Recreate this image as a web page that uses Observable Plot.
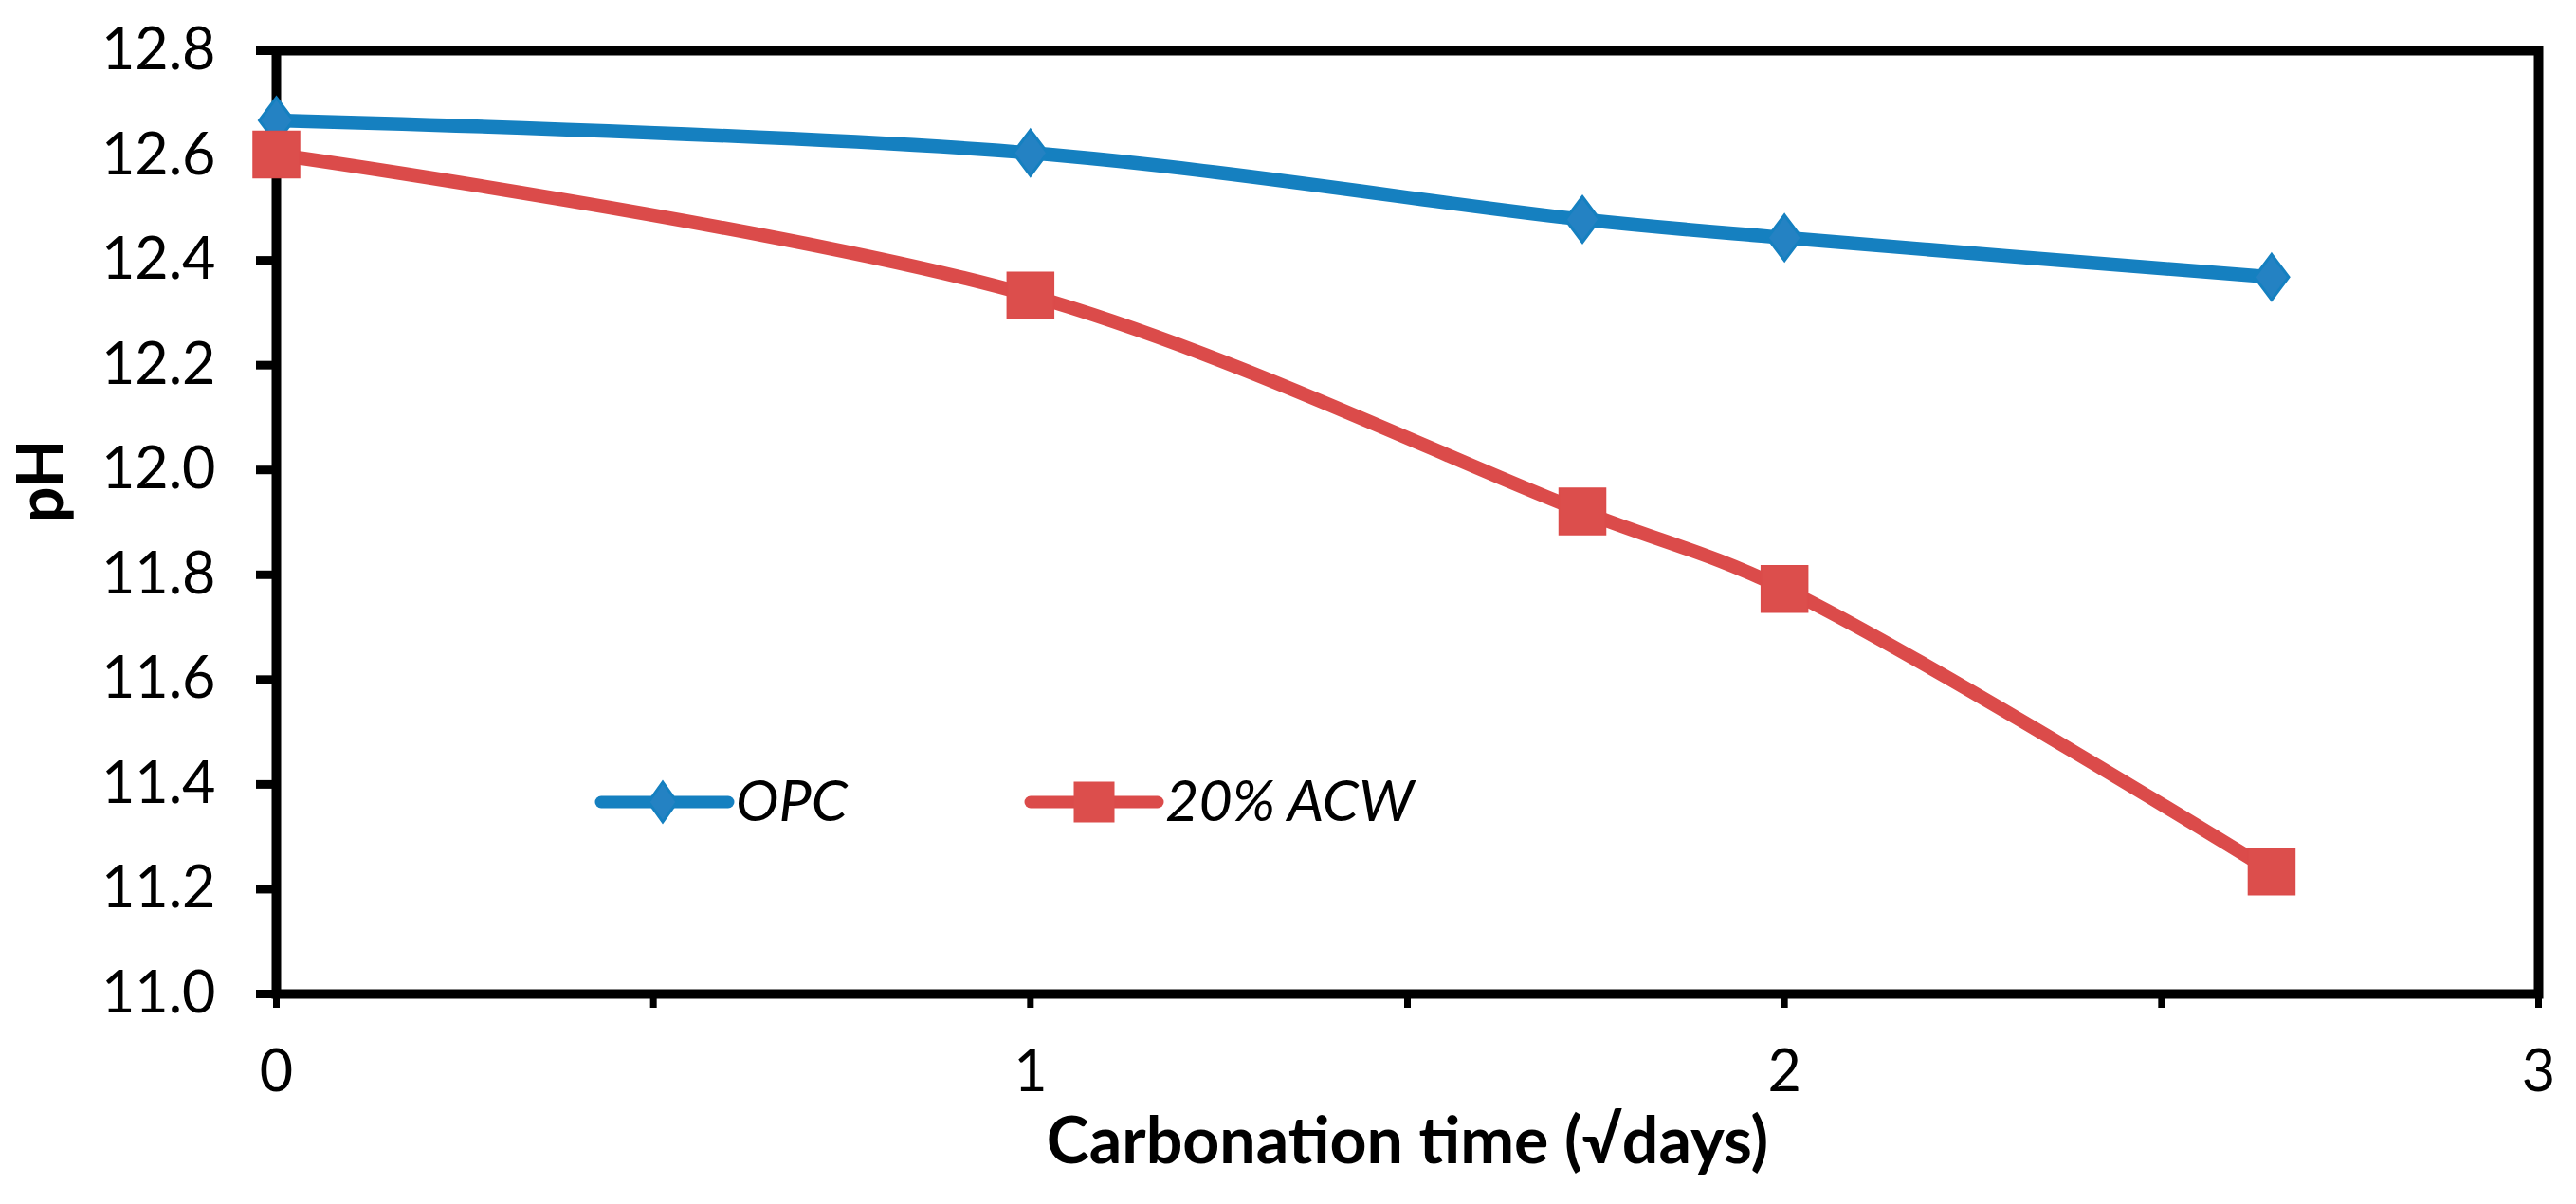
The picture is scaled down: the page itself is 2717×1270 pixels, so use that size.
<!DOCTYPE html>
<html>
<head>
<meta charset="utf-8">
<script src="https://cdn.jsdelivr.net/npm/d3@7"></script>
<script src="https://cdn.jsdelivr.net/npm/@observablehq/plot@0.6"></script>
<style>
  html, body { margin: 0; padding: 0; background: #fff; }
  #wrap { position: relative; width: 2717px; height: 1270px; font-family: Lato, "Open Sans", sans-serif; }
  #legend { position: absolute; left: 0; top: 0; pointer-events: none; }
</style>
</head>
<body>
<div id="wrap"></div>
<script>
// ---- data ----
const seriesNames = ["OPC", "20% ACW"];
const xSqrtDays = [0, 1, 1.732, 2, 2.646];
const phOPC = [12.667, 12.605, 12.478, 12.443, 12.368];
const phACW = [12.602, 12.333, 11.921, 11.773, 11.234];
const yTicks = [11.0, 11.2, 11.4, 11.6, 11.8, 12.0, 12.2, 12.4, 12.6, 12.8];
const xTicks = [0, 0.5, 1, 1.5, 2, 2.5, 3];
const xTickLabels = [0, 1, 2, 3];
const xTitle = "Carbonation time (√days)";
const yTitle = "pH";
const colors = {"OPC": "#1580c0", "20% ACW": "#db4b4a"};
const fills = {"OPC": "#2482c3", "20% ACW": "#dc4e4c"};

const rows = [];
xSqrtDays.forEach((x, i) => {
  rows.push({series: "OPC", x, y: phOPC[i]});
  rows.push({series: "20% ACW", x, y: phACW[i]});
});

// custom symbols: size = pi*r^2
const diamond = {draw(ctx, size) {
  const r = Math.sqrt(size / Math.PI), w = r * 0.75;
  ctx.moveTo(0, -r); ctx.lineTo(w, 0); ctx.lineTo(0, r); ctx.lineTo(-w, 0); ctx.closePath();
}};
const square = {draw(ctx, size) {
  const r = Math.sqrt(size / Math.PI);
  ctx.rect(-r, -r, 2 * r, 2 * r);
}};

const W = 2717, H = 1270;
const chart = Plot.plot({
  width: W,
  height: H,
  marginLeft: 291,
  marginRight: 40,
  marginTop: 53,
  marginBottom: 222,
  style: {fontFamily: "Lato, 'Open Sans', sans-serif", background: "white", color: "black"},
  x: {domain: [0, 3], label: null},
  y: {domain: [11.0, 12.8], label: null},
  marks: [
    Plot.frame({stroke: "black", strokeWidth: 10}),
    Plot.axisY({ticks: yTicks, tickSize: 21, tickPadding: 43, tickFormat: d => d.toFixed(1),
      fontSize: 61, strokeWidth: 9, stroke: "black", fill: "black", label: null}),
    Plot.axisX({ticks: xTicks, tickSize: 15, tickPadding: 44,
      tickFormat: d => xTickLabels.includes(d) ? String(d) : "",
      fontSize: 61, strokeWidth: 7, stroke: "black", fill: "black", label: null}),
    Plot.text([xTitle], {frameAnchor: "bottom", dy: 157, text: d => d, fontSize: 68, fontWeight: "bold", fill: "black", lineAnchor: "middle"}),
    Plot.text([yTitle], {frameAnchor: "left", dx: -247, rotate: -90, text: d => d, fontSize: 66, fontWeight: "bold", fill: "black", lineAnchor: "middle"}),
    Plot.line(rows.filter(d => d.series === "OPC"), {x: "x", y: "y", stroke: colors["OPC"], strokeWidth: 14.5, curve: "catmull-rom", strokeLinecap: "round", strokeLinejoin: "round"}),
    Plot.line(rows.filter(d => d.series === "20% ACW"), {x: "x", y: "y", stroke: colors["20% ACW"], strokeWidth: 14.5, curve: "catmull-rom", strokeLinecap: "round", strokeLinejoin: "round"}),
    Plot.dot(rows.filter(d => d.series === "OPC"), {x: "x", y: "y", symbol: diamond, r: 24, fill: fills["OPC"], stroke: colors["OPC"], strokeWidth: 3}),
    Plot.dot(rows.filter(d => d.series === "20% ACW"), {x: "x", y: "y", symbol: square, r: 24.5, fill: fills["20% ACW"], stroke: colors["20% ACW"], strokeWidth: 1.5})
  ]
});
const wrap = document.getElementById("wrap");
wrap.appendChild(chart);

// ---- legend overlay (inside plot area, as in the original) ----
const legendItems = [
  {name: seriesNames[0], x0: 634, x1: 768, cx: 699, tx: 776, shape: "diamond"},
  {name: seriesNames[1], x0: 1087, x1: 1221, cx: 1154, tx: 1229, shape: "square"}
];
const ly = 846;
const leg = d3.select(wrap).append("svg").attr("id", "legend").attr("width", W).attr("height", H);
legendItems.forEach(it => {
  const g = leg.append("g");
  g.append("line").attr("x1", it.x0).attr("x2", it.x1).attr("y1", ly).attr("y2", ly)
    .attr("stroke", colors[it.name]).attr("stroke-width", 13).attr("stroke-linecap", "round");
  if (it.shape === "diamond") {
    g.append("path").attr("d", `M${it.cx},${ly - 21}L${it.cx + 15},${ly}L${it.cx},${ly + 21}L${it.cx - 15},${ly}Z`)
      .attr("fill", fills[it.name]).attr("stroke", colors[it.name]).attr("stroke-width", 3);
  } else {
    g.append("rect").attr("x", it.cx - 21.5).attr("y", ly - 21.5).attr("width", 43).attr("height", 43)
      .attr("fill", fills[it.name]);
  }
  g.append("text").attr("x", it.tx).attr("y", 866).text(it.name)
    .attr("font-family", "Lato, 'Open Sans', sans-serif").attr("font-style", "italic")
    .attr("font-size", 61).attr("fill", "black");
});
</script>
</body>
</html>
